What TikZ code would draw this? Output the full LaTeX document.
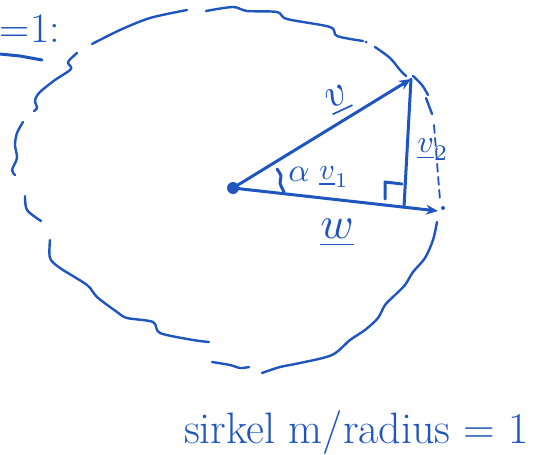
\documentclass[tikz,border=0pt]{standalone}
\usetikzlibrary{arrows.meta}
\definecolor{ink}{RGB}{30,85,190}
\newcommand{\sketchmath}[2]{\scalebox{#1}{$#2$}}
\begin{document}
\begin{tikzpicture}[x=1pt,y=-1pt,
  pen/.style={draw=ink,line width=3pt,line cap=round,line join=round},
  rim/.style={draw=ink,line width=2.4pt,line cap=round,line join=round},
  vec/.style={pen,-{Stealth[length=12pt,width=10pt]}},
  lbl/.style={text=ink,inner sep=0pt},
  txt/.style={text=ink,inner sep=0pt,font=\fontsize{44}{48}\selectfont}]
\useasboundingbox (0,0) rectangle (533,455);
% circle (hand drawn, broken)
\draw[rim] plot[smooth] coordinates {(92,44) (120,30) (150,18) (187,10)};
\draw[rim] plot[smooth] coordinates {(206,11) (233,7) (247,11) (277,12) (287,19) (330,27) (337,36) (363,41)};
\fill[ink] (366,42) circle (1.5pt);
\draw[rim] plot[smooth] coordinates {(375,47) (390,58) (400,70) (406,76)};
\draw[rim] plot[smooth] coordinates {(413,76) (422,85) (428,95)};
\draw[rim] plot[smooth] coordinates {(426,98) (432,114)};
\draw[rim,line width=1.8pt,dash pattern=on 8pt off 5pt] (434,125) -- (440,200);
\fill[ink] (443,208) circle (2pt);
\draw[rim] plot[smooth] coordinates {(437,222) (433,240) (425,258) (413,272) (405,285) (395,295) (385,305) (378,318) (365,330) (350,340) (332,355) (300,363) (280,367) (262,373)};
\draw[rim] plot[smooth] coordinates {(212,362) (230,365) (240,368) (249,367)};
\draw[rim] plot[smooth] coordinates {(50,240) (50,258) (60,268) (87,285) (97,297) (117,312) (127,318) (153,322) (160,333) (193,340) (209,342)};
\draw[rim] plot[smooth] coordinates {(25,196) (27,210) (41,221)};
\draw[rim] plot[smooth] coordinates {(23,122) (17,133) (15,145) (17,158) (12,170) (15,175)};
\draw[rim] plot[smooth] coordinates {(77,53) (68,62) (71,69) (55,80) (40,92) (35,100) (37,108) (34,111)};
% vectors
\node[circle,fill=ink,inner sep=0pt,minimum size=12pt] (O) at (233,188) {};
\coordinate (V) at (411,79);
\coordinate (W) at (438,211);
\coordinate (F) at (404,207);
\draw[vec] (O.center) -- (V);
\draw[vec] (O.center) -- (W);
\draw[pen] (V) -- (F);
% right angle mark
\draw[pen] (385,199) -- (385,182) -- (402,184);
% angle mark
\draw[pen] plot[smooth] coordinates {(277,169) (281,176) (280,183) (284,192)};
% labels
\node[lbl,rotate=25] (lv) at (338,100) {\sketchmath{4.2}{\underline{v}}};
\node[lbl] (la) at (299,174) {\sketchmath{3.3}{\alpha}};
\node[lbl] (lv1) at (334,177) {\sketchmath{3}{\underline{v}_1}};
\node[lbl] (lv2) at (433,150) {\sketchmath{3.2}{\underline{v}_2}};
\node[lbl] (lw) at (337,233) {\sketchmath{4.5}{\underline{w}}};
% top-left text
\node[txt,anchor=base east,font=\fontsize{42}{46}\selectfont] (eq) at (60,42) {=1:};
\draw[pen] (0,54) -- (20,56) -- (42,60);
% bottom text
\node[txt,anchor=base west] (cap) at (184,443) {sirkel m/radius = 1};
\end{tikzpicture}
\end{document}
